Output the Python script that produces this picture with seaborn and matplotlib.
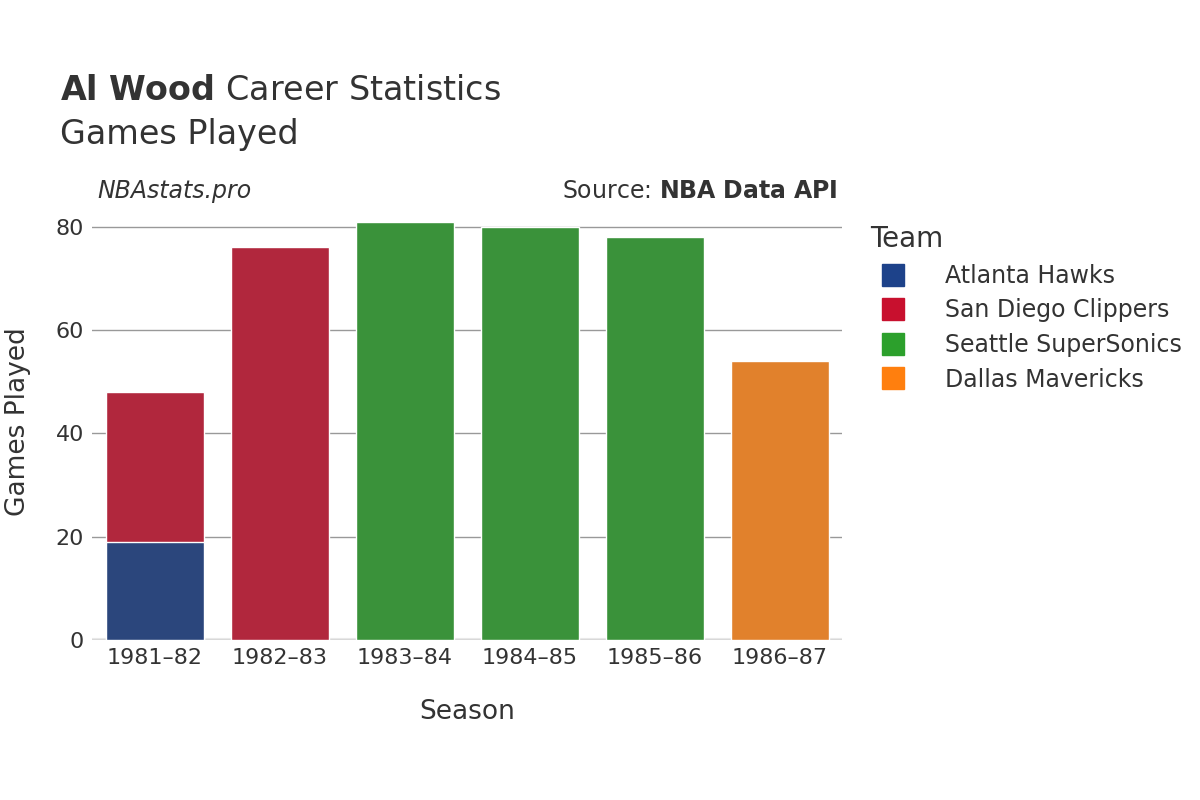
import pandas as pd
import matplotlib.pyplot as plt
import seaborn as sns
from matplotlib.lines import Line2D

# === DATA ===
seasons = ["1981–82", "1982–83", "1983–84", "1984–85", "1985–86", "1986–87"]
teams = ["Atlanta Hawks", "San Diego Clippers", "Seattle SuperSonics", "Dallas Mavericks"]
colors = ["#1d428a", "#c8102e", "#2ca02c", "#ff7f0e"]
row_season = ["1981–82", "1981–82", "1982–83", "1983–84", "1984–85", "1985–86", "1986–87"]
row_team = ["Atlanta Hawks", "San Diego Clippers", "San Diego Clippers", "Seattle SuperSonics",
            "Seattle SuperSonics", "Seattle SuperSonics", "Dallas Mavericks"]
row_games = [19, 29, 76, 81, 80, 78, 54]

df = pd.DataFrame({"Season": row_season, "Team": row_team, "Games": row_games})
# stacked top of each segment
df["Top"] = df.groupby("Season")["Games"].cumsum()
palette = dict(zip(teams, colors))

fig = plt.figure(figsize=(12, 8), dpi=100)
ax = fig.add_axes([0.077, 0.2, 0.625, 0.545])

# draw from the highest segment down so lower segments sit on top
for rank in [1, 0]:
    part = df[df.groupby("Season").cumcount() == rank]
    if rank == 1:
        part = df.loc[df.groupby("Season")["Top"].idxmax()]
    sns.barplot(data=part, x="Season", y="Top", hue="Team", palette=palette, order=seasons,
                dodge=False, width=0.79, edgecolor="white", linewidth=1, legend=False, ax=ax)
    if rank == 1:
        break
first = df[df["Team"] == "Atlanta Hawks"]
sns.barplot(data=first, x="Season", y="Top", hue="Team", palette=palette, order=seasons,
            dodge=False, width=0.79, edgecolor="white", linewidth=1, legend=False, ax=ax)

ax.set_ylim(0, 84.4)
ax.set_xlim(-0.5, 5.5)
ax.set_yticks([0, 20, 40, 60, 80])
ax.grid(axis="y", color="#999999", linewidth=1)
ax.set_axisbelow(True)
for s in ax.spines.values():
    s.set_visible(False)
ax.axhline(0, color="#e8e8e8", linewidth=3, zorder=0)
ax.tick_params(length=0, labelsize=16, labelcolor="#333333", pad=6)
ax.set_xlabel("Season", fontsize=19, color="#333333", labelpad=22)
ax.set_ylabel("Games Played", fontsize=19, color="#333333", labelpad=18)

fig.text(0.05, 0.875, r"$\bf{Al\ Wood}$ Career Statistics", fontsize=24, color="#333333")
fig.text(0.05, 0.82, "Games Played", fontsize=24, color="#333333")
fig.text(0.081, 0.752, "NBAstats.pro", fontsize=17, style="italic", color="#333333")
fig.text(0.698, 0.752, r"Source: $\bf{NBA\ Data\ API}$", fontsize=17, color="#333333", ha="right")

handles = [Line2D([], [], marker="s", linestyle="", markersize=16, color=c) for c in colors]
leg = fig.legend(handles, teams, loc="upper left", bbox_to_anchor=(0.707, 0.745), frameon=False,
                 fontsize=17, title="Team", title_fontsize=20, labelcolor="#333333",
                 alignment="left", handletextpad=1.2, labelspacing=0.45)
leg.get_title().set_color("#333333")

fig.savefig("out.png")
